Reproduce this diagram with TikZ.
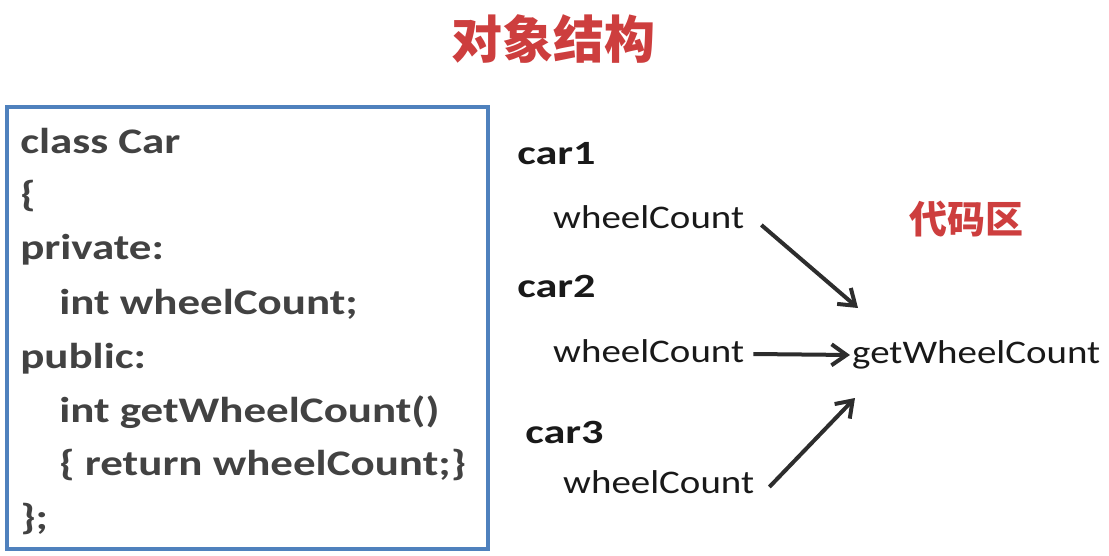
\documentclass[tikz,border=0pt]{standalone}
\usepackage{fontspec}
\setmainfont{Carlito}
\newfontfamily\cjk{Noto Sans CJK SC}
\usetikzlibrary{arrows.meta}
\definecolor{titlered}{RGB}{205,62,62}
\definecolor{boxblue}{RGB}{79,129,189}
\definecolor{codegray}{RGB}{66,66,66}
\definecolor{arrowgray}{RGB}{45,45,45}
\begin{document}
\begin{tikzpicture}[x=1pt,y=1pt,>={Straight Barb[length=15pt,width=21pt]},
	code/.style={anchor=base west,inner sep=0pt,text=codegray,font=\fontsize{36}{44}\selectfont\bfseries,transform shape,xscale=1.25},
	car/.style={anchor=base west,inner sep=0pt,text=black!90,font=\fontsize{34}{40}\selectfont\bfseries,transform shape,xscale=1.3},
	field/.style={anchor=base west,inner sep=0pt,text=black!90,font=\fontsize{33}{40}\selectfont,transform shape,xscale=1.18},
	link/.style={->,line width=4pt,draw=arrowgray}]
	\useasboundingbox (0,0) rectangle (1109,-556);
	\node[text=titlered,font=\cjk\bfseries\fontsize{51}{60}\selectfont] (title) at (553,-39) {对象结构};
	% class
	\draw[boxblue,line width=3.5pt] (7,-107) rectangle (488,-549);
	\node[code] (l1) at (20,-154) {class Car};
	\node[code] (l2) at (20,-207) {\{};
	\node[code] (l3) at (20,-260) {private:};
	\node[code] (l4) at (59,-314) {int wheelCount;};
	\node[code] (l5) at (20,-368) {public:};
	\node[code] (l6) at (59,-422) {int getWheelCount()};
	\node[code] (l7) at (59,-475) {\{ return wheelCount;\}};
	\node[code] (l8) at (20,-529) {\};};
	% objects
	\node[car] (car1) at (517,-165) {car1};
	\node[field] (w1) at (553,-229) {wheelCount};
	\node[car] (car2) at (517,-298) {car2};
	\node[field] (w2) at (553,-362) {wheelCount};
	\node[car] (car3) at (525,-443) {car3};
	\node[field] (w3) at (563,-493) {wheelCount};
	\node[text=titlered,font=\cjk\bfseries\fontsize{38}{46}\selectfont] (area) at (966,-219) {代码区};
	\node[field] (get) at (852,-363) {getWheelCount};
	\draw[link] ([shift={(17,4)}]w1.base east) -- ([shift={(6,55)}]get.base west);
	\draw[link] ([shift={(9,8)}]w2.base east) -- ([shift={(-2,8)}]get.base west);
	\draw[link] ([shift={(15,6)}]w3.base east) -- ([shift={(3,-35)}]get.base west);
\end{tikzpicture}
\end{document}
